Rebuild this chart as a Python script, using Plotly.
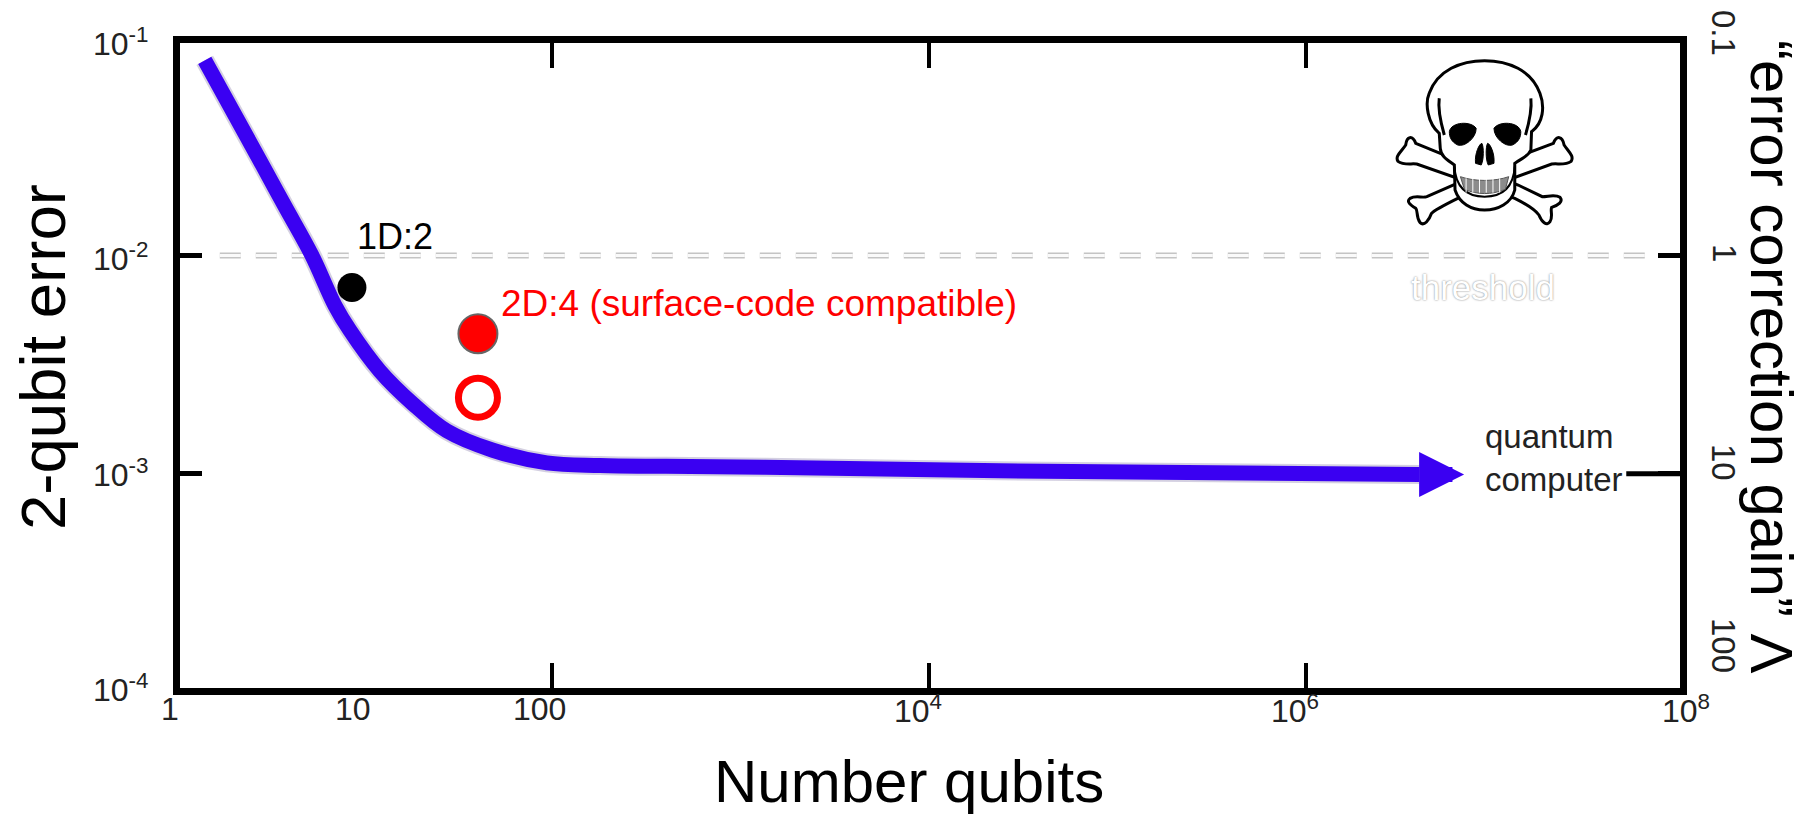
import re
import math
import plotly.graph_objects as go

W, H = 1808, 814

# ---- data ----
curve_qubits = [1.44, 2.76, 3.83, 5.33, 7.06, 8.48, 12.2, 18.3, 27.7, 48.6, 94, 180, 400, 1349, 23800, 4.0e6]
curve_error = [0.0783, 0.0282, 0.0168, 0.0100, 0.0059, 0.00453, 0.00296, 0.00209, 0.00157, 0.00128, 0.00112,
               0.00109, 0.00108, 0.00107, 0.00103, 0.00099]
arrow_tip_qubits = 6.9e6
threshold_qubits = [1.73, 6.9e7]
threshold_error = [0.01, 0.01]
oneD_qubits, oneD_error = [8.69], [0.00713]
twoD_qubits, twoD_error = [40.5], [0.00438]
twoD_open_qubits, twoD_open_error = [40.5], [0.00223]

x_tick_values = [1, 10, 100, 1e4, 1e6, 1e8]
x_tick_labels = ["1", "10", "100", "10<sup>4</sup>", "10<sup>6</sup>", "10<sup>8</sup>"]
y_tick_values = [1e-1, 1e-2, 1e-3, 1e-4]
y_tick_labels = ["10<sup>-1</sup>", "10<sup>-2</sup>", "10<sup>-3</sup>", "10<sup>-4</sup>"]
gain_labels = ["0.1", "1", "10", "100"]

BLUE = "#3a00f2"
FONT = "Liberation Sans"

fig = go.Figure()
fig.add_trace(go.Scatter(x=curve_qubits, y=curve_error, mode="lines",
                         line=dict(color="rgba(60,40,120,0.22)", width=19, shape="spline", smoothing=1.0)))
fig.add_trace(go.Scatter(x=threshold_qubits, y=threshold_error, mode="lines",
                         line=dict(color="#c4c4c4", width=6, dash="21px,15px")))
fig.add_trace(go.Scatter(x=threshold_qubits, y=threshold_error, mode="lines",
                         line=dict(color="#fafafa", width=3, dash="21px,15px")))
fig.add_trace(go.Scatter(x=curve_qubits, y=curve_error, mode="lines",
                         line=dict(color=BLUE, width=15, shape="spline", smoothing=1.0)))
fig.add_trace(go.Scatter(x=oneD_qubits, y=oneD_error, mode="markers",
                         marker=dict(color="black", size=29)))
fig.add_trace(go.Scatter(x=twoD_qubits, y=twoD_error, mode="markers",
                         marker=dict(color="#ff0000", size=39, line=dict(color="#666666", width=2))))
fig.add_trace(go.Scatter(x=twoD_open_qubits, y=twoD_open_error, mode="markers",
                         marker=dict(color="white", size=39, line=dict(color="#ff0000", width=7))))
# longer right-hand tick at Lambda = 10
fig.add_trace(go.Scatter(x=[5.0e7, 1e8], y=[1e-3, 1e-3], mode="lines",
                         line=dict(color="black", width=5)))


def px(x):
    return x / W


def py(y):
    return 1 - y / H


annotations = []


def note(text, x, y, size, color="#222222", rot=0, xanchor="center", align="center", shadow=None):
    font = dict(family=FONT, size=size, color=color)
    if shadow:
        font["shadow"] = shadow
    annotations.append(dict(text=text, x=px(x), y=py(y), xref="paper", yref="paper",
                            showarrow=False, font=font, textangle=rot,
                            xanchor=xanchor, yanchor="middle", align=align))


for lab, cx in zip(x_tick_labels, [170, 353, 539, 918, 1295, 1686]):
    note(lab, cx, 709, 32)
for lab, cy in zip(y_tick_labels, [42, 257, 473, 688]):
    note(lab, 121, cy, 32)
for lab, cy in zip(gain_labels, [33, 253, 462, 645]):
    note(lab, 1724, cy, 33, rot=90)

note("2-qubit error", 43, 357, 63.5, color="black", rot=-90)
note("Number qubits", 909, 781, 60, color="black")
note("“error correction gain” Λ", 1772, 357, 60, color="black", rot=90)
note("1D:2", 395, 236, 36, color="black")
note("2D:4 (surface-code compatible)", 499, 303, 37, color="#ff0000", xanchor="left")
note("quantum<br>computer", 1483, 458, 33, xanchor="left", align="left")
note("threshold", 1483, 287, 35, color="white", shadow="0 0 2px #777777")

# arrow head: last stretch of the curve
annotations.append(dict(text="", x=math.log10(arrow_tip_qubits), y=math.log10(curve_error[-1]),
                        ax=math.log10(curve_qubits[-1]), ay=math.log10(curve_error[-1]),
                        xref="x", yref="y", axref="x", ayref="y", showarrow=True,
                        arrowhead=2, arrowsize=0.6, arrowwidth=15, arrowcolor=BLUE, standoff=0))


# ---- skull drawing, outlined in picture pixels ----
def skull_path(d):
    def conv(m):
        X, Y = float(m.group(1)), float(m.group(2))
        return f"{px(1300 + X / 2.98):.5f},{py(Y / 3):.5f}"
    return re.sub(r"(-?\d+\.?\d*),(-?\d+\.?\d*)", conv, d)


def skull(d, fill="white", line="black", width=3):
    return dict(type="path", path=skull_path(d), xref="paper", yref="paper",
                fillcolor=fill, line=dict(color=line, width=width), layer="above")


shapes = [
    skull("M 345,430 C 335,405 318,408 315,435 C 302,455 282,468 292,484 C 308,496 330,490 348,492 "
          "L 640,595 C 680,615 705,635 712,645 C 720,665 735,680 745,665 C 755,650 745,630 750,622 "
          "C 770,615 785,605 775,592 C 760,582 740,590 722,590 L 650,555 Z"),
    skull("M 755,430 C 765,405 782,408 787,435 C 800,455 818,468 808,484 C 792,496 770,490 750,492 "
          "L 470,595 C 430,615 400,630 392,640 C 385,660 370,680 358,668 C 345,650 352,632 345,625 "
          "C 330,615 315,605 328,595 C 345,585 365,595 378,590 L 650,470 Z"),
    skull("M 415,400 C 380,370 372,310 385,280 C 410,210 480,182 550,182 C 620,182 690,210 715,280 "
          "C 730,320 725,370 690,395 L 688,450 C 680,470 660,475 640,490 L 640,570 C 630,610 590,630 550,630 "
          "C 510,630 475,610 462,570 L 460,495 C 440,480 420,470 418,445 Z"),
    skull("M 415,295 C 410,330 420,370 430,405", fill="rgba(0,0,0,0)"),
    skull("M 688,295 C 692,330 682,370 672,405", fill="rgba(0,0,0,0)"),
    skull("M 460,500 C 465,575 510,590 550,590 C 590,590 635,575 640,500", fill="rgba(0,0,0,0)", width=2),
    skull("M 445,395 C 450,365 510,362 525,385 C 525,415 490,442 470,435 C 450,425 445,410 445,395 Z",
          fill="black", width=1),
    skull("M 658,395 C 653,365 593,362 578,385 C 578,415 613,442 633,435 C 653,425 658,410 658,395 Z",
          fill="black", width=1),
    skull("M 523,490 C 520,460 535,430 542,430 C 548,440 548,480 540,495 Z", fill="black", width=1),
    skull("M 578,490 C 581,460 566,430 559,430 C 553,440 553,480 561,495 Z", fill="black", width=1),
    skull("M 478,530 C 520,545 580,545 622,530 L 612,568 C 570,585 530,585 490,568 Z",
          fill="#8c8c8c", line="#555555", width=1),
]
for X in range(495, 615, 20):
    shapes.append(skull(f"M {X},535 L {X},578", fill="rgba(0,0,0,0)", line="white", width=1))

axis_common = dict(type="log", showgrid=False, zeroline=False, showline=True, linecolor="black",
                   linewidth=7, mirror="ticks", ticks="inside", tickcolor="black",
                   showticklabels=False)

fig.update_layout(
    width=W, height=H, autosize=False, showlegend=False,
    paper_bgcolor="white", plot_bgcolor="white",
    margin=dict(l=0, r=0, t=0, b=0),
    xaxis=dict(axis_common, domain=[px(180), px(1680)], range=[0.027, 7.984],
               tickvals=[100, 1e4, 1e6], ticklen=25, tickwidth=4),
    yaxis=dict(axis_common, domain=[py(688), py(43)], range=[-3.982, -1.027],
               tickvals=[1e-2, 1e-3], ticklen=22, tickwidth=5),
    annotations=annotations, shapes=shapes,
)

fig.write_html("out.html", config=dict(displayModeBar=False),
               post_script="document.body.style.margin='0';document.body.style.overflow='hidden';")
